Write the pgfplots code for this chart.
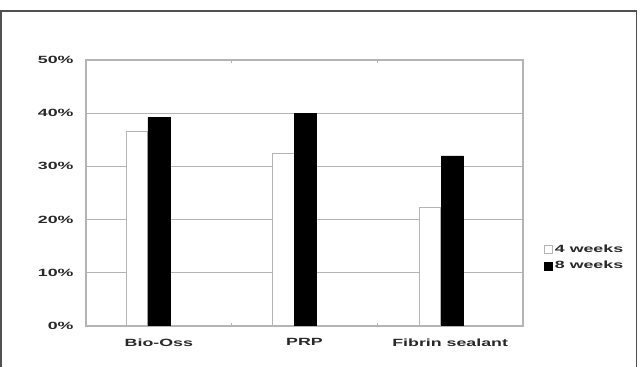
\documentclass[border=0pt]{standalone}
\usepackage{pgfplots}
\pgfplotsset{compat=1.18}
\usepackage{fontspec}
\setmainfont{Liberation Sans}
\newfontfamily\lab{Liberation Sans}[FakeStretch=1.7]
\definecolor{gridgray}{HTML}{B4B4B4}
\definecolor{framegray}{HTML}{505050}
\definecolor{txt}{HTML}{282828}
\pgfplotstableread{
xw     w4    xb     w8
0.350  36.5  0.500  39.2
1.355  32.5  1.507  40.0
2.363  22.2  2.515  32.0
}\datatable
\begin{document}
\begin{tikzpicture}[x=1bp,y=1bp]
\begin{axis}[
  at={(86bp,41bp)}, anchor=south west,
  scale only axis, width=437bp, height=266bp,
  xmin=0, xmax=3, ymin=0, ymax=50,
  axis line style={gridgray, line width=1.2bp},
  ymajorgrids, grid style={gridgray, line width=1.2bp},
  ytick={0,10,20,30,40,50},
  yticklabels={0\%,10\%,20\%,30\%,40\%,50\%},
  xtick={0.5,1.5,2.5},
  xticklabels={Bio-Oss,PRP,Fibrin sealant},
  extra x ticks={1,2}, extra x tick labels={},
  extra x tick style={major tick length=3bp, tick style={gridgray, line width=1bp}, grid=none},
  major tick length=0pt,
  tick label style={font=\lab\bfseries\fontsize{10.5}{12}\selectfont, text=txt},
  yticklabel style={xshift=-9bp},
  xticklabel style={yshift=-9bp},
  legend style={at={(1.047,0.256)}, anchor=west, draw=none, fill=none,
    font=\lab\bfseries\fontsize{10.5}{12}\selectfont, text=txt,
    inner sep=0pt, row sep=3bp, legend cell align=left,
    nodes={inner xsep=2bp}},
  legend image code/.code={\draw[#1] (0bp,-4bp) rectangle (8bp,4bp);},
]
\addplot[ybar, bar width=0.148, bar shift=0, fill=white, draw=gridgray, line width=1.2bp] table[x=xw,y=w4] {\datatable};
\addlegendentry{4 weeks}
\addplot[ybar, bar width=0.152, bar shift=0, fill=black, draw=black] table[x=xb,y=w8] {\datatable};
\addlegendentry{8 weeks}
\end{axis}
\draw[framegray, line width=1.5bp] (1bp,-2bp) -- (1bp,356bp) -- (636.5bp,356bp) -- (636.5bp,-2bp);
\pgfresetboundingbox
\useasboundingbox (0,0) rectangle (638bp,367bp);
\end{tikzpicture}
\end{document}
